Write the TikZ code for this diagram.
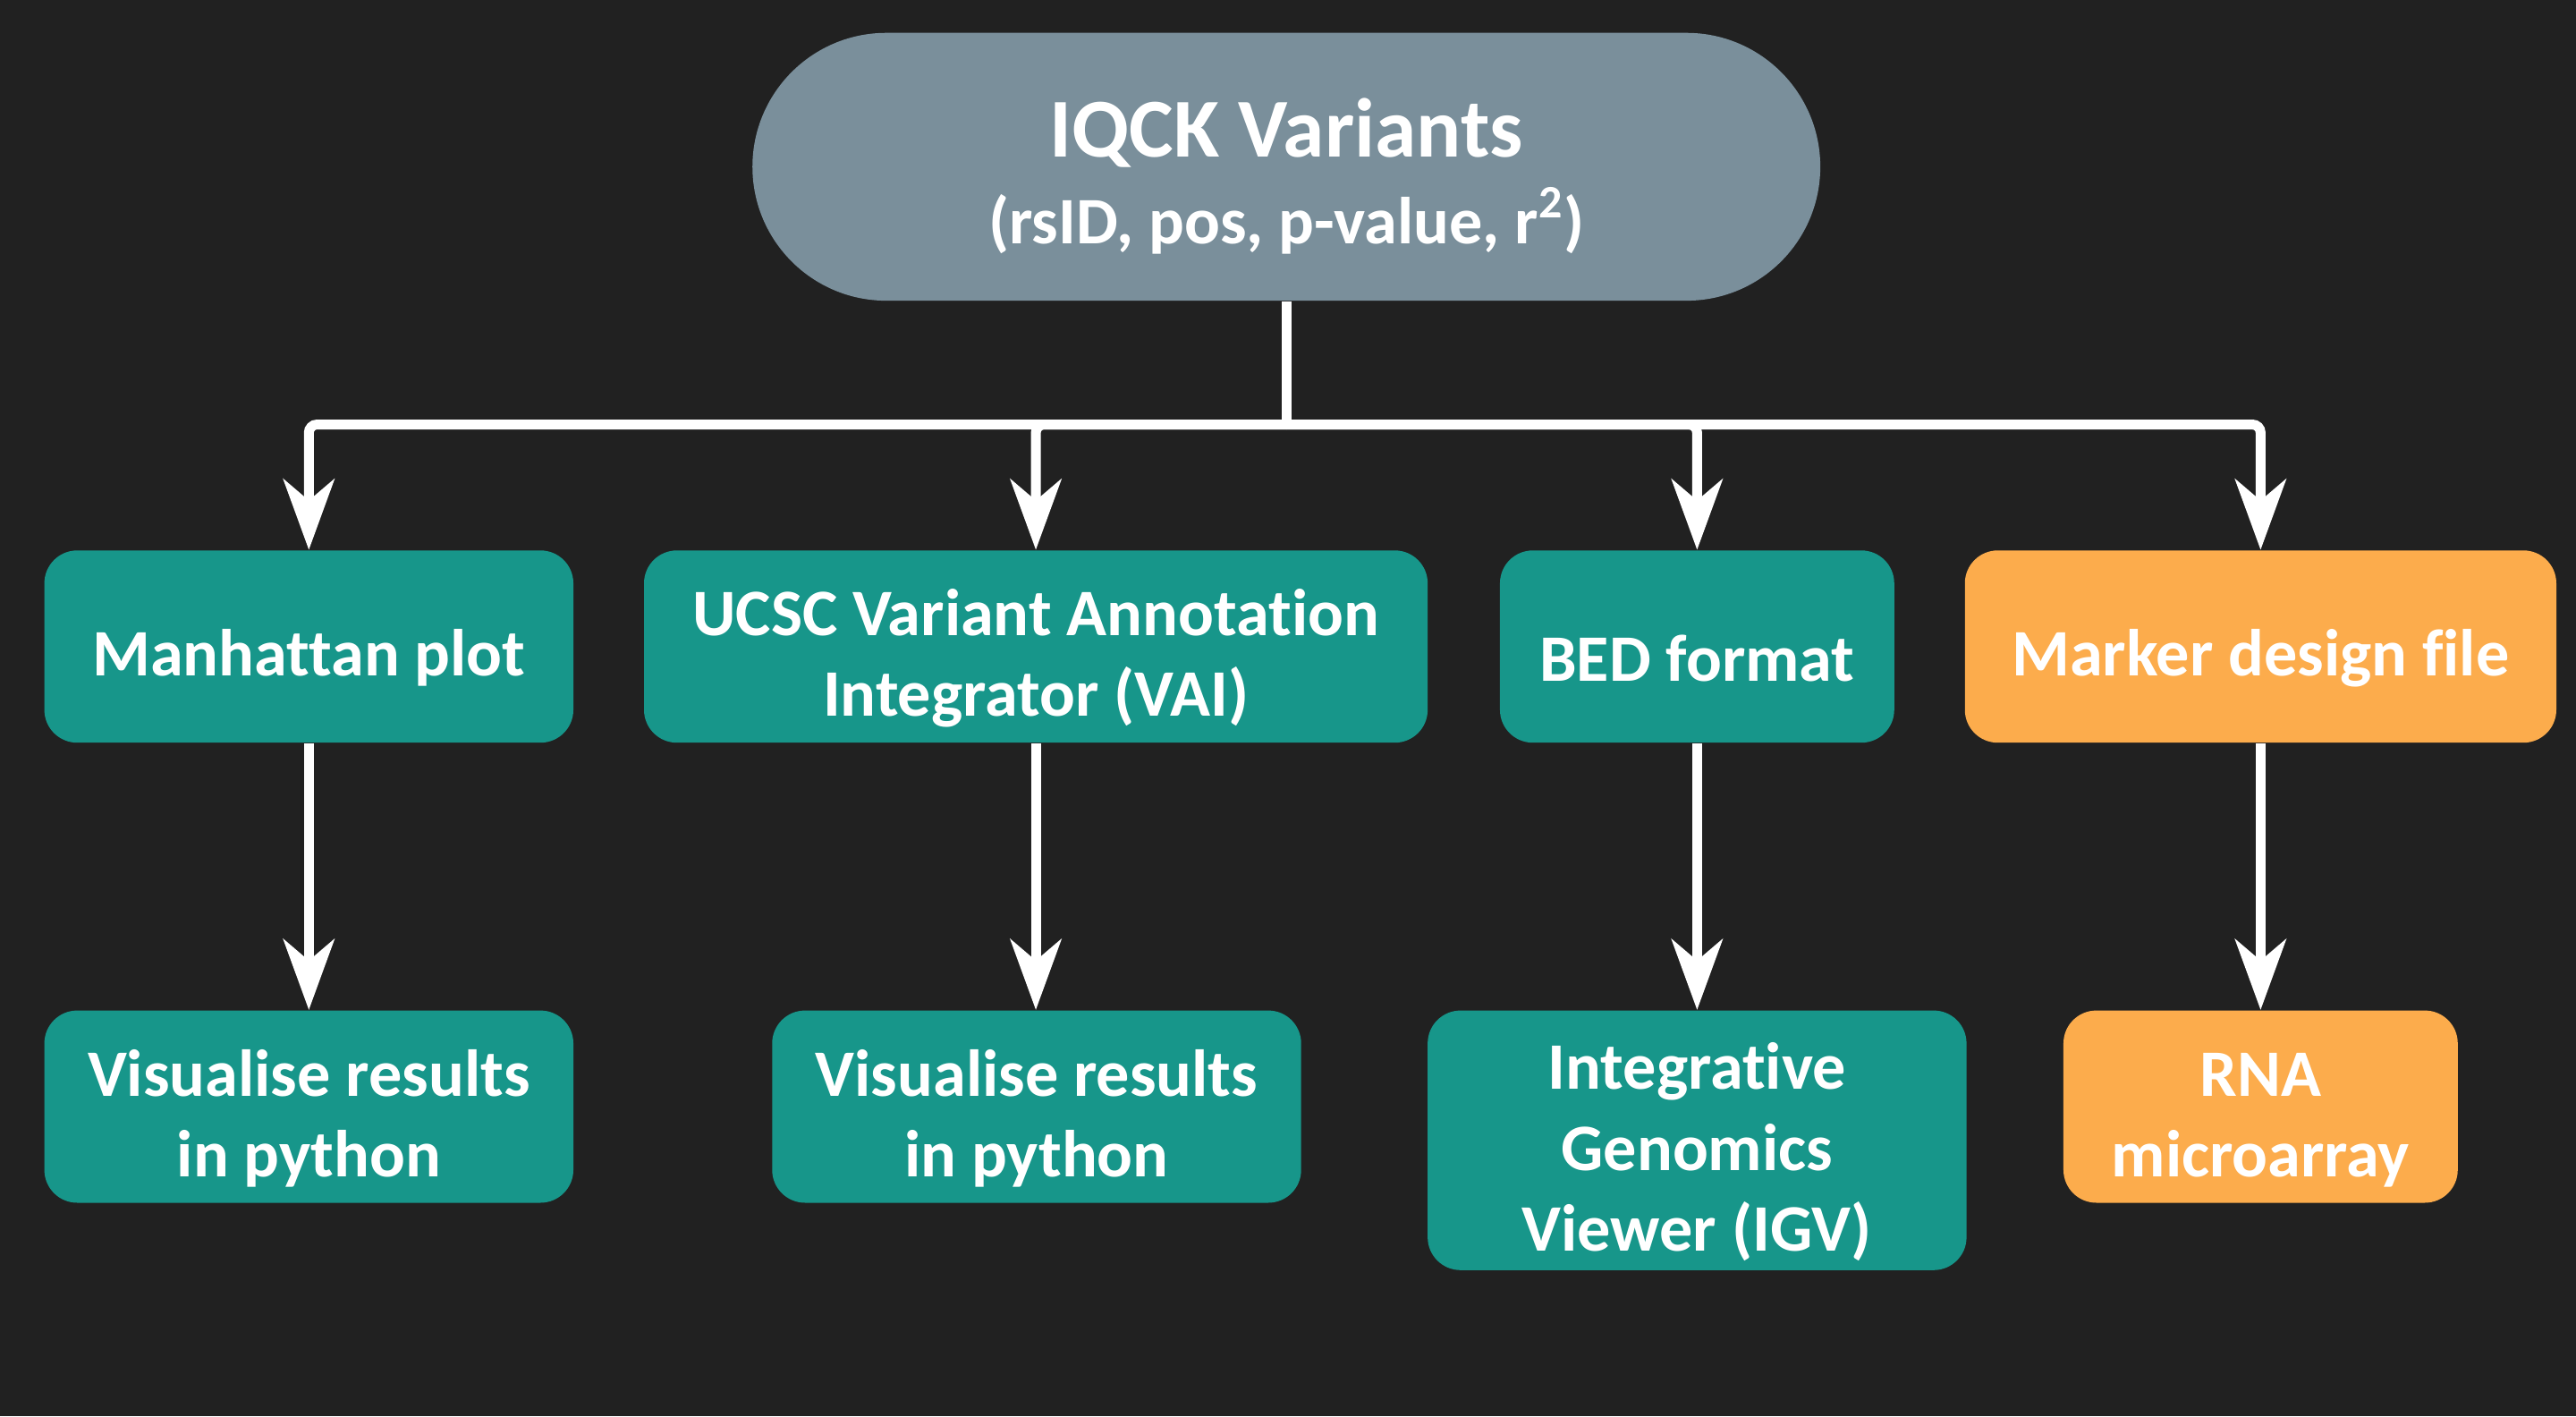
\documentclass[tikz,border=0pt]{standalone}
\usepackage{fontspec}
\setmainfont[Ligatures=NoCommon]{Carlito}
\usetikzlibrary{arrows.meta}
\definecolor{bgdark}{HTML}{212121}
\definecolor{slate}{HTML}{7A8F9B}
\definecolor{teal}{HTML}{17968A}
\definecolor{amber}{HTML}{FCAC4C}
\newcommand{\topgap}{\rule{0pt}{0.85cm}}
\begin{document}
\begin{tikzpicture}[
  box/.style={rectangle, rounded corners=0.4cm, fill=#1, text=white, align=center,
    font=\fontsize{23}{28}\selectfont\bfseries, minimum height=2.34cm, inner sep=0pt},
  flow/.style={draw=white, line width=0.12cm, rounded corners=0.1cm,
    -{Stealth[length=0.86cm, width=0.62cm, inset=0.26cm]}}
]
\fill[bgdark] (0,0) rectangle (31.36,-17.24);
\useasboundingbox (0,0) rectangle (31.36,-17.24);
\node [rectangle, rounded corners=1.63cm, fill=slate, text=white, align=center,
  minimum width=13cm, minimum height=3.26cm, font=\bfseries] (iqck) at (15.66,-2.03)
  {{\fontsize{29}{33}\selectfont\rule{0pt}{0.95cm}IQCK Variants}\\[0.21cm]
   {\fontsize{23}{28}\selectfont (rsID, pos, p-value, r\textsuperscript{2})}};
\node [box=teal, minimum width=6.44cm] (manhattan) at (3.76,-7.87) {\topgap Manhattan plot};
\node [box=teal, minimum width=9.54cm] (ucsc) at (12.61,-7.87) {\topgap UCSC Variant Annotation\\Integrator (VAI)};
\node [box=teal, minimum width=4.8cm] (bed) at (20.66,-7.87) {\topgap BED format};
\node [box=amber, minimum width=7.2cm] (marker) at (27.52,-7.87) {\topgap Marker design file};
\node [box=teal, minimum width=6.44cm] (vispy) at (3.76,-13.47) {\topgap Visualise results\\in python};
\node [box=teal, minimum width=6.44cm] (visvai) at (12.62,-13.47) {\topgap Visualise results\\in python};
\node [box=teal, minimum width=6.56cm, minimum height=3.16cm] (igv) at (20.66,-13.88) {\topgap Integrative\\Genomics\\Viewer (IGV)};
\node [box=amber, minimum width=4.8cm] (rna) at (27.52,-13.47) {\topgap RNA\\microarray};
% bus from the top node
\coordinate (hub) at ([yshift=-1.5cm]iqck.south);
\draw [white, line width=0.12cm] (iqck.south) -- (hub);
\draw [flow] (hub) -| (manhattan.north);
\draw [flow] (hub) -| (ucsc.north);
\draw [flow] (hub) -| (bed.north);
\draw [flow] (hub) -| (marker.north);
% second level
\draw [flow] (manhattan.south) -- (vispy.north);
\draw [flow] (ucsc.south) -- (ucsc.south |- visvai.north);
\draw [flow] (bed.south) -- (igv.north);
\draw [flow] (marker.south) -- (rna.north);
\end{tikzpicture}
\end{document}
